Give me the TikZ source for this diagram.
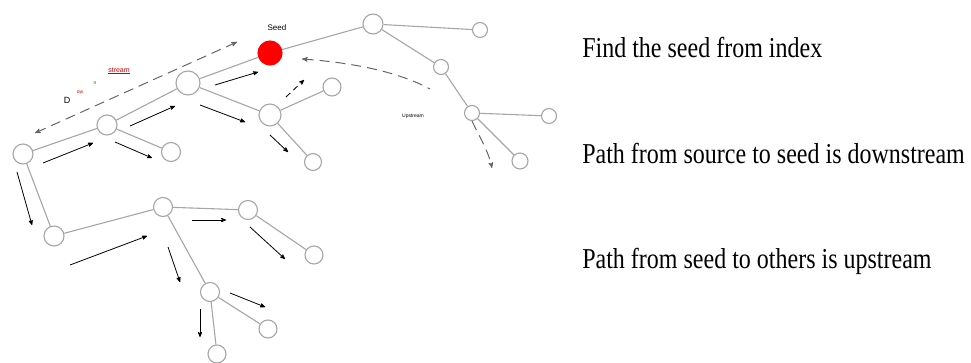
\documentclass[tikz,border=0pt]{standalone}
\usepackage{fontspec}
\setmainfont{Liberation Serif}
\setsansfont{Liberation Sans}
\usetikzlibrary{arrows}

\begin{document}
\begin{tikzpicture}[x=1pt,y=-1pt,>=stealth',semithick,
                  nodo/.style={circle,draw=gray!70,fill=white,line width=1.1pt,
                  inner sep=0pt,minimum size=#1},
                  arista/.style={draw=gray!70,line width=1.1pt},
                  flecha/.style={->,black,line width=0.8pt},
                  guia/.style={<->,gray!80!black,line width=1pt,
                  dash pattern=on 10pt off 6pt},
                  texto/.style={anchor=west,inner sep=0pt,
                  font=\fontsize{24}{28}\selectfont},
                  chico/.style={inner sep=0pt,font=\sffamily\fontsize{#1}{#1}\selectfont}]

                  \useasboundingbox (0,0) rectangle (971,363);

                  % Colocamos los nodos del arbol.
                  \node[nodo=20] (v0) at (23,154) {};
                  \node[nodo=20] (v1) at (107,125) {};
                  \node[nodo=24] (v2) at (188,83) {};
                  \node[nodo=24,draw=red,fill=red] (vs) at (270,53) {};
                  \node[nodo=20] (v3) at (373,24) {};
                  \node[nodo=15] (v4) at (480,30) {};
                  \node[nodo=15] (v5) at (441,67) {};
                  \node[nodo=15] (v6) at (472,113) {};
                  \node[nodo=15] (v7) at (549,116) {};
                  \node[nodo=16] (v8) at (520,161) {};
                  \node[nodo=22] (v9) at (270,115) {};
                  \node[nodo=18] (v10) at (332,87) {};
                  \node[nodo=17] (v11) at (313,162) {};
                  \node[nodo=19] (v12) at (171,152) {};
                  \node[nodo=20] (v13) at (54,236) {};
                  \node[nodo=19] (v14) at (163,207) {};
                  \node[nodo=19] (v15) at (248,210) {};
                  \node[nodo=18] (v16) at (314,255) {};
                  \node[nodo=19] (v17) at (210,292) {};
                  \node[nodo=18] (v18) at (268,329) {};
                  \node[nodo=18] (v19) at (217,354) {};

                  % Dibujamos las aristas.
                  \draw[arista] (v0) edge (v1) (v1) edge (v2) (v2) edge (vs)
                  (vs) edge (v3) (v3) edge (v4) (v3) edge (v5) (v5) edge (v6)
                  (v6) edge (v7) (v6) edge (v8) (v2) edge (v9) (v9) edge (v10)
                  (v9) edge (v11) (v1) edge (v12) (v0) edge (v13)
                  (v13) edge (v14) (v14) edge (v15) (v15) edge (v16)
                  (v14) edge (v17) (v17) edge (v18) (v17) edge (v19);

                  % Flechas del recorrido.
                  \draw[flecha] (43,163) -- (93,143);
                  \draw[flecha] (130,126) -- (175,106);
                  \draw[flecha] (215,85) -- (258,72);
                  \draw[flecha] (115,142) -- (152,158);
                  \draw[flecha] (200,105) -- (245,122);
                  \draw[flecha,dash pattern=on 6pt off 4pt] (286,97) -- (304,80);
                  \draw[flecha] (270,135) -- (288,152);
                  \draw[flecha] (17,172) -- (32,225);
                  \draw[flecha] (70,265) -- (147,236);
                  \draw[flecha] (192,220) -- (226,220);
                  \draw[flecha] (250,227) -- (285,259);
                  \draw[flecha] (168,247) -- (180,282);
                  \draw[flecha] (230,293) -- (265,307);
                  \draw[flecha] (200,309) -- (200,337);

                  % Guias de aguas abajo y aguas arriba.
                  \draw[guia] (35,133) -- (237,42);
                  \draw[guia,<-] (302,59) .. controls (345,62) and (395,70) .. (430,89);
                  \draw[guia,->] (472,121) .. controls (480,138) and (488,150) .. (492,168);

                  % Etiquetas.
                  \node[chico=8] (lseed) at (277,28) {Seed};
                  \node[chico=5] (lup) at (413,116) {Upstream};
                  \node[chico=9] (ld1) at (67,100) {D};
                  \node[chico=5,text=red] (ld2) at (80,92) {ow};
                  \node[chico=5,text=green!50!black] (ld3) at (95,83) {n};
                  \node[chico=7,text=red!80!black] (ld4) at (119,71) {\underline{stream}};

                  % Texto de la derecha.
                  \node[texto] (t1) at (582,48) {\scalebox{1}[1.2]{Find the seed from index}};
                  \node[texto] (t2) at (582,154) {\scalebox{1}[1.2]{Path from source to seed is downstream}};
                  \node[texto] (t3) at (582,261) {\scalebox{1}[1.2]{Path from seed to others is upstream}};

                \end{tikzpicture}
\end{document}
